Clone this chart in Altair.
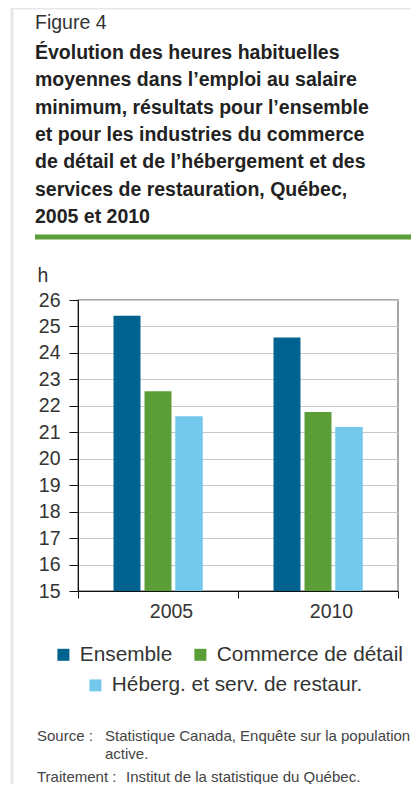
import altair as alt
import pandas as pd

# ---- data ----
years = ["2005", "2010"]
series = ["Ensemble", "Commerce de détail", "Héberg. et serv. de restaur."]
values_2005 = [25.4, 22.55, 21.6]
values_2010 = [24.58, 21.77, 21.2]
colors = ["#00628f", "#5b9e38", "#74c8ec"]
y_ticks = list(range(15, 27))

title_lines = [
    "Évolution des heures habituelles",
    "moyennes dans l’emploi au salaire",
    "minimum, résultats pour l’ensemble",
    "et pour les industries du commerce",
    "de détail et de l’hébergement et des",
    "services de restauration, Québec,",
    "2005 et 2010",
]

rows = []
for yr, vals in zip(years, [values_2005, values_2010]):
    for s, v in zip(series, vals):
        rows.append({"year": yr, "series": s, "value": v})
df = pd.DataFrame(rows)

FONT = "Liberation Sans"
TXT = "#333333"

x_enc = alt.X(
    "year:N",
    title=None,
    scale=alt.Scale(paddingInner=0, paddingOuter=0),
    axis=alt.Axis(
        labelAngle=0, labelFontSize=19.5, labelFont=FONT, labelColor=TXT,
        labelPadding=4, labelOffset=13, tickBand="extent", tickSize=7,
        tickColor="#111111", domainColor="#111111", grid=False,
    ),
)
xo_enc = alt.XOffset(
    "series:N", sort=series,
    scale=alt.Scale(domain=series, range=[35.5, 124.5], paddingInner=0.13, paddingOuter=0),
)
y_enc = alt.Y(
    "value:Q",
    title="h",
    scale=alt.Scale(domain=[15, 26], nice=False, zero=False),
    axis=alt.Axis(
        values=y_ticks, labelFontSize=19.5, labelFont=FONT, labelColor=TXT,
        labelPadding=9, tickSize=9, tickColor="#111111", domainColor="#111111",
        gridColor="#c8c8c8", grid=True,
        titleAngle=0, titleX=-41, titleY=-19, titleAlign="left",
        titleBaseline="alphabetic", titleFontSize=19.5, titleFont=FONT,
        titleFontWeight="normal", titleColor=TXT,
    ),
)

legend_common = dict(
    orient="none", direction="horizontal", title=None,
    labelFontSize=20.8, labelFont=FONT, labelColor=TXT, labelLimit=400,
    symbolType="square", symbolSize=144, symbolStrokeWidth=0,
    labelOffset=6, columnPadding=17, padding=0,
)

bars_main = alt.Chart(df).mark_bar(clip=True).encode(
    x=x_enc, xOffset=xo_enc, y=y_enc,
    fill=alt.Fill(
        "series:N",
        scale=alt.Scale(domain=series, range=colors),
        legend=alt.Legend(values=series[:2], legendX=-25, legendY=344, **legend_common),
    ),
)

bars_third = alt.Chart(df).mark_bar(clip=True).transform_filter(
    alt.datum.series == series[2]
).encode(
    x=x_enc, xOffset=xo_enc, y=y_enc,
    fill=alt.Fill(
        "series:N",
        scale=alt.Scale(domain=[series[2]], range=[colors[2]]),
        legend=alt.Legend(values=[series[2]], legendX=7, legendY=375, **legend_common),
    ),
)

one = alt.Data(values=[{"k": 1}])

fig_label = alt.Chart(one).mark_text(
    align="left", baseline="alphabetic", font=FONT, fontSize=19.5, color=TXT
).encode(x=alt.value(-43), y=alt.value(-271), text=alt.value("Figure 4"))

title_text = alt.Chart(one).mark_text(
    align="left", baseline="alphabetic", font=FONT, fontSize=19.5,
    fontWeight="bold", color="#222222", lineHeight=27.3,
).encode(x=alt.value(-43), y=alt.value(-241), text=alt.value(title_lines))

green_rule = alt.Chart(one).mark_rule(color="#5a9e3a", strokeWidth=5).encode(
    x=alt.value(-43), x2=alt.value(337), y=alt.value(-63)
)
frame_left = alt.Chart(one).mark_rule(color="#e8e8e8", strokeWidth=3).encode(
    x=alt.value(-66), y=alt.value(-293), y2=alt.value(500)
)
frame_top = alt.Chart(one).mark_rule(color="#e8e8e8", strokeWidth=3).encode(
    x=alt.value(-67), x2=alt.value(345), y=alt.value(-292)
)

src_style = dict(align="left", baseline="alphabetic", font=FONT, fontSize=15,
                 color="#444444", lineHeight=18)
src1 = alt.Chart(one).mark_text(**src_style).encode(
    x=alt.value(-41), y=alt.value(441), text=alt.value("Source :"))
src2 = alt.Chart(one).mark_text(**src_style).encode(
    x=alt.value(27), y=alt.value(441),
    text=alt.value(["Statistique Canada, Enquête sur la population", "active."]))
trt1 = alt.Chart(one).mark_text(**src_style).encode(
    x=alt.value(-41), y=alt.value(482), text=alt.value("Traitement :"))
trt2 = alt.Chart(one).mark_text(**src_style).encode(
    x=alt.value(48), y=alt.value(482), text=alt.value("Institut de la statistique du Québec."))

chart = alt.layer(
    bars_main, bars_third,
    fig_label, title_text, green_rule, frame_left, frame_top,
    src1, src2, trt1, trt2,
).resolve_scale(fill="independent").resolve_legend(fill="independent").properties(
    width=320, height=291,
    autosize=alt.AutoSizeParams(type="none"),
    padding={"left": 70, "top": 292, "right": 13, "bottom": 193},
    background="white",
).configure_view(stroke="#8c8c8c", strokeWidth=1.5)

chart.save("out.html", embed_options={"renderer": "svg", "actions": False})
